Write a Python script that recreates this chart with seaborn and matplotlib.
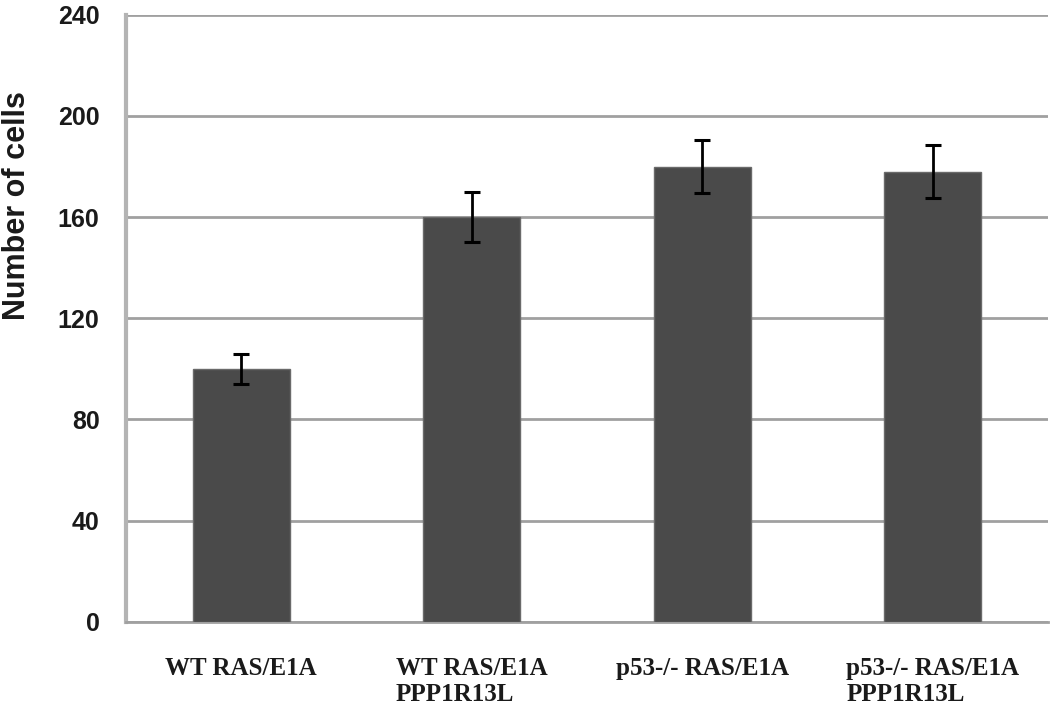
import matplotlib
matplotlib.use("Agg")
import matplotlib.pyplot as plt
import seaborn as sns
import pandas as pd
from matplotlib.ticker import FixedLocator

# cell groups and counts
groups = ["WT RAS/E1A", "WT RAS/E1A\nPPP1R13L", "p53-/- RAS/E1A", "p53-/- RAS/E1A\nPPP1R13L"]
cells = [100, 160, 180, 178]
errs = [6, 10, 10.5, 10.5]

Data = pd.DataFrame({"group": groups, "cells": cells})

sns.set_style("white")
plt.rcParams["font.family"] = ["Liberation Sans", "DejaVu Sans"]

fig = plt.figure(figsize=(10.5, 7.05), dpi=100)
ax = fig.add_axes([0.12, 0.118, 0.878, 0.861])

sns.barplot(x="group", y="cells", data=Data, color="#4a4a4a", saturation=1,
            width=0.42, errorbar=None, edgecolor="#6a6a6a", linewidth=1, ax=ax, zorder=3)
ax.errorbar(range(len(groups)), cells, yerr=errs, fmt="none", ecolor="black",
            elinewidth=2, capsize=6, capthick=2.2, zorder=4)

ax.set_ylim(0, 240)
ax.set_xlim(-0.5, 3.5)
ax.set_yticks(range(0, 241, 40))
ax.yaxis.grid(True, color="#a0a0a0", linewidth=2, zorder=0)
ax.set_axisbelow(True)

for s in ["top", "right"]:
    ax.spines[s].set_visible(False)
ax.spines["left"].set_color("#b4b4b4")
ax.spines["left"].set_linewidth(3)
ax.spines["bottom"].set_color("#a0a0a0")
ax.spines["bottom"].set_linewidth(2)

ax.tick_params(axis="y", length=6, width=1.5, color="#a0a0a0", labelsize=18, pad=13)
ax.tick_params(axis="x", which="major", length=0, pad=25)
ax.xaxis.set_minor_locator(FixedLocator([-0.5, 0.5, 1.5, 2.5, 3.5]))
ax.tick_params(axis="x", which="minor", length=8, width=1.5, color="#a0a0a0", direction="out")

for t in ax.get_yticklabels():
    t.set_fontweight("bold")
    t.set_color("#1a1a1a")
ax.set_xticks(range(len(groups)))
ax.set_xticklabels(groups, fontfamily="Liberation Serif", fontweight="bold",
                   fontsize=18, linespacing=1.2, va="top", color="#1a1a1a")
for t in ax.get_xticklabels():
    t.set_horizontalalignment("center")
    t.set_multialignment("left")

ax.set_xlabel("")
ax.set_ylabel("Number of cells", fontsize=22, fontweight="bold", color="#1a1a1a")
ax.yaxis.set_label_coords(-0.1025, 0.685)

fig.savefig("out.png", dpi=100)
